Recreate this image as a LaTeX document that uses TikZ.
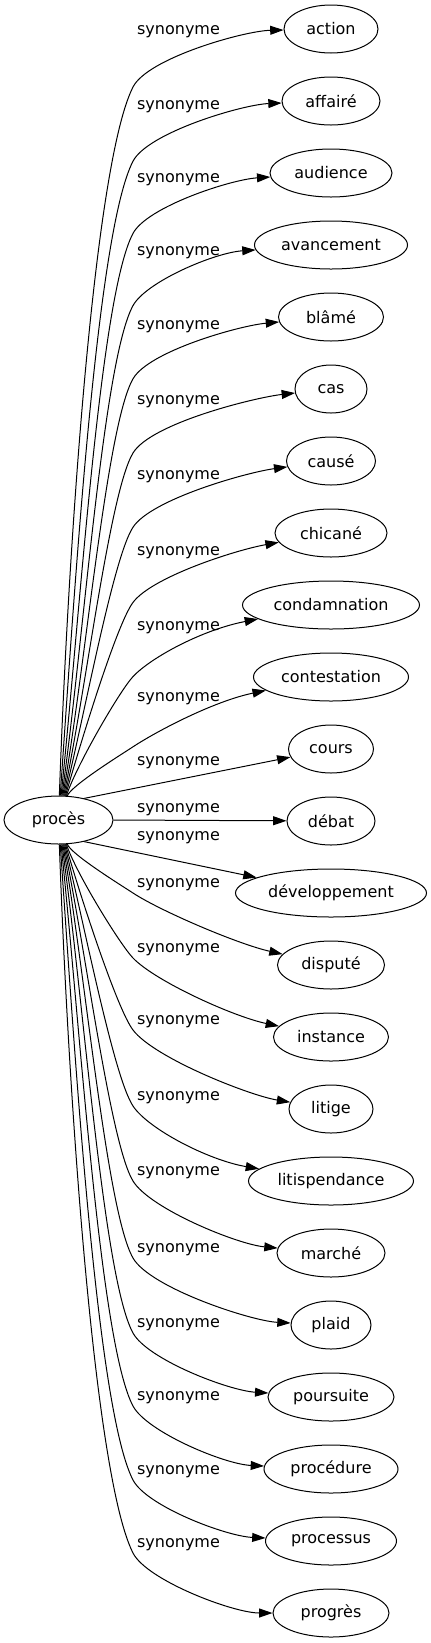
\documentclass[tikz,border=0pt]{standalone}
\usepackage{fontspec}
\setmainfont{DejaVu Sans}
\usetikzlibrary{arrows.meta,shapes.geometric}
\tikzset{%
	word/.style  = {draw, ellipse, line width=0.75pt, minimum height=36pt, inner sep=0pt}, % Synonym
	head/.style  = {word, minimum width=81.75pt}, % Headword
	rel/.style   = {inner sep=0pt}, % Edge label
	link/.style  = {-{Triangle[length=10pt,width=6.7pt]}, line width=0.75pt}, % Edge
}

\begin{document}
\begin{tikzpicture}[x=0.75pt, y=-0.75pt, font=\fontsize{12}{14.4}\selectfont]
		\useasboundingbox (0,0) rectangle (431,1643);
		\node[head] (proces) at (58.5,820) {procès};
		\foreach \i/\word/\rx/\yl/\off/\s in {%
			0/action/47/32/1/-1, 1/affairé/49/107/2/-1, 2/audience/61/180/4/-1,
			3/avancement/76.5/253/5/-1, 4/blâmé/52.5/327/5/-1, 5/cas/36/402/4/-1,
			6/causé/44.5/477/6/-1, 7/chicané/56/553/10/-1, 8/condamnation/88.5/628/17/-1,
			9/contestation/77.5/699/16/-1, 10/cours/42.5/763/10/0, 11/débat/44/810/0/0,
			12/développement/95.5/838/-14/0, 13/disputé/53.5/885/-12/1, 14/instance/57.5/950/-12/1,
			15/litige/42/1022/-7/1, 16/litispendance/82.5/1098/-14/1, 17/marché/54/1173/-5/1,
			18/plaid/40/1250/-2/1, 19/poursuite/63/1325/-4/1, 20/procédure/67/1398/-3/1,
			21/processus/65.5/1472/-3/1, 22/progrès/58/1545/0/1} {
			\node[word, minimum width=\rx*1.5pt] (t\i) at (331,29+72*\i) {\word};
			\node[rel] (l\i) at (178.5,\yl) {synonyme};
			\ifnum\s=0
				\pgfmathtruncatemacro\sang{40*(11-\i)}
				\draw[link] (proces.\sang) -- (t\i);
			\else
				% knee of the edge just by its label
				\pgfmathsetmacro\yt{29+72*\i}
				\pgfmathsetmacro\sang{\s<0 ? 88-2*\i : -70-2*(\i-13)}
				\pgfmathsetmacro\yk{\s<0 ? \yl+55-0.8*\i : \yl+8}
				\pgfmathsetmacro\dist{veclen(74.5,\yk-820)}
				\pgfmathsetmacro\kang{0.75*atan(abs(\yk-820)/74.5)}
				\pgfmathsetmacro\ax{58.5+0.35*\dist*cos(\sang)}
				\pgfmathsetmacro\ay{820-0.35*\dist*sin(\sang)}
				\pgfmathsetmacro\bx{133-0.12*\dist*cos(\kang)}
				\pgfmathsetmacro\by{\yk-(\s)*0.12*\dist*sin(\kang)}
				\pgfmathsetmacro\len{veclen(331-\rx-133,\yt-\yk)}
				\pgfmathsetmacro\cx{133+0.2*\len*cos(\kang)}
				\pgfmathsetmacro\cy{\yk+(\s)*0.2*\len*sin(\kang)}
				\pgfmathsetmacro\dx{331-\rx-40}
				\pgfmathsetmacro\dy{\yt+\off*(\rx+40)/\rx}
				\coordinate (k\i) at (133,\yk);
				\draw[link] (proces) .. controls (\ax,\ay) and (\bx,\by) .. (k\i) .. controls (\cx,\cy) and (\dx,\dy) .. (t\i);
			\fi
		}
\end{tikzpicture}
\end{document}
